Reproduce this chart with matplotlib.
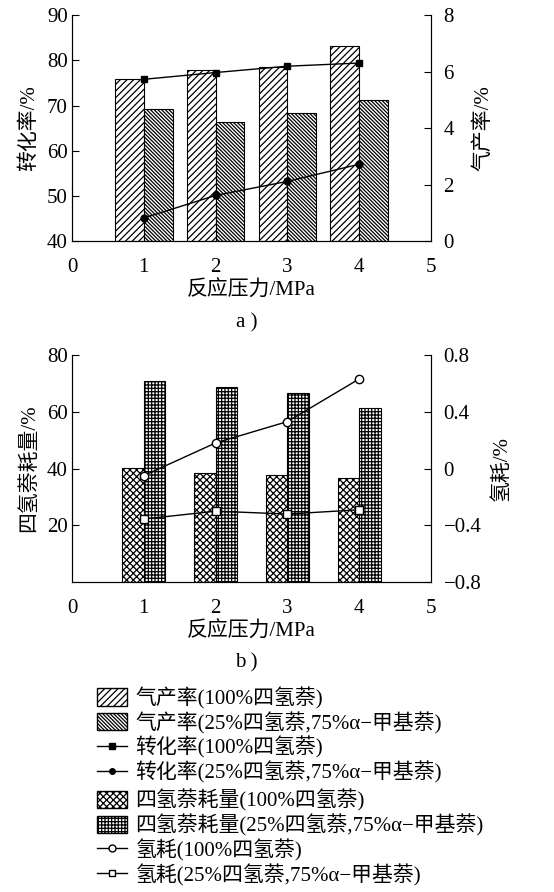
import matplotlib
matplotlib.use('Agg')
import matplotlib.pyplot as plt
import numpy as np
from matplotlib.patches import Patch
from matplotlib.lines import Line2D

plt.rcParams['font.family'] = ['Liberation Serif', 'Noto Sans CJK SC']
plt.rcParams['hatch.linewidth'] = 0.9
plt.rcParams['axes.unicode_minus'] = True

# pressure, MPa
pres = [1, 2, 3, 4]

# a) gas yield (%), right axis
gas_100 = [5.75, 6.06, 6.16, 6.91]
gas_25 = [4.67, 4.22, 4.53, 4.98]
# a) conversion (%), left axis
conv_100 = [75.8, 77.3, 78.7, 79.4]
conv_25 = [45.1, 50.1, 53.2, 57.0]

# b) tetralin consumption (%), left axis
thn_100 = [40.2, 38.5, 37.6, 36.5]
thn_25 = [70.6, 68.6, 66.4, 61.4]
# b) hydrogen consumption (%), right axis
h2_100 = [-0.05, 0.18, 0.33, 0.63]
h2_25 = [-0.355, -0.30, -0.32, -0.29]

lab_gas_100 = '气产率(100%四氢萘)'
lab_gas_25 = '气产率(25%四氢萘,75%α−甲基萘)'
lab_conv_100 = '转化率(100%四氢萘)'
lab_conv_25 = '转化率(25%四氢萘,75%α−甲基萘)'
lab_thn_100 = '四氢萘耗量(100%四氢萘)'
lab_thn_25 = '四氢萘耗量(25%四氢萘,75%α−甲基萘)'
lab_h2_100 = '氢耗(100%四氢萘)'
lab_h2_25 = '氢耗(25%四氢萘,75%α−甲基萘)'

fs = 15
hat_a1 = '/////'
hat_a2 = '\\' * 9
hat_b1 = 'xxxxx'
hat_b2 = '+++++'
x = np.array(pres)

fig = plt.figure(figsize=(5.54, 8.92), dpi=100)


def style(ax, ax2):
    for a in (ax, ax2):
        a.spines['top'].set_visible(False)
        a.tick_params(axis='y', direction='in', length=5, labelsize=fs, width=0.8)
        a.tick_params(axis='x', length=0, labelsize=fs, pad=12)
    ax.tick_params(axis='y', pad=3)
    ax2.tick_params(axis='y', pad=9)
    ax.set_xlim(0, 5)
    ax.set_xticks([0, 1, 2, 3, 4, 5])


# ---- a)
ax = fig.add_axes([0.130, 0.7298, 0.648, 0.2532])
ax2 = ax.twinx()
ax2.bar(x - 0.2, gas_100, width=0.4, color='white', edgecolor='black', hatch=hat_a1, lw=0.8)
ax2.bar(x + 0.2, gas_25, width=0.4, color='white', edgecolor='black', hatch=hat_a2, lw=0.8)
ax.plot(x, conv_100, '-s', color='black', ms=5, lw=1)
ax.plot(x, conv_25, '-o', color='black', ms=5, lw=1)
ax.set_zorder(ax2.get_zorder() + 1)
ax.patch.set_visible(False)
ax.set_ylim(40, 90)
ax.set_yticks(range(40, 91, 10))
ax2.set_ylim(0, 8)
ax2.set_yticks(range(0, 9, 2))
style(ax, ax2)
ax.set_ylabel('转化率/%', fontsize=fs, labelpad=6)
ax2.set_ylabel('气产率/%', fontsize=fs, labelpad=14)
ax.set_xlabel('反应压力/MPa', fontsize=fs, labelpad=3)
fig.text(0.445, 0.633, 'a )', fontsize=fs, ha='center')

# ---- b)
bx = fig.add_axes([0.130, 0.3472, 0.648, 0.2551])
bx2 = bx.twinx()
bx.bar(x - 0.15, thn_100, width=0.3, color='white', edgecolor='black', hatch=hat_b1, lw=0.8)
bx.bar(x + 0.15, thn_25, width=0.3, color='white', edgecolor='black', hatch=hat_b2, lw=0.8)
bx2.plot(x, h2_100, '-o', color='black', mfc='white', ms=6, lw=1)
bx2.plot(x, h2_25, '-s', color='black', mfc='white', ms=6, lw=1)
bx.set_ylim(0, 80)
bx.set_yticks([20, 40, 60, 80])
bx2.set_ylim(-0.8, 0.8)
bx2.set_yticks([-0.8, -0.4, 0, 0.4, 0.8])
bx2.set_yticklabels(['−0.8', '−0.4', '0', '0.4', '0.8'])
style(bx, bx2)
bx.set_ylabel('四氢萘耗量/%', fontsize=fs, labelpad=6)
bx2.set_ylabel('氢耗/%', fontsize=fs, labelpad=8)
bx.set_xlabel('反应压力/MPa', fontsize=fs, labelpad=3)
fig.text(0.445, 0.252, 'b )', fontsize=fs, ha='center')

# ---- legends
h1 = [Patch(facecolor='white', edgecolor='black', hatch=hat_a1, label=lab_gas_100),
      Patch(facecolor='white', edgecolor='black', hatch=hat_a2, label=lab_gas_25),
      Line2D([], [], color='black', marker='s', ms=4, lw=1, label=lab_conv_100),
      Line2D([], [], color='black', marker='o', ms=4, lw=1, label=lab_conv_25)]
h2 = [Patch(facecolor='white', edgecolor='black', hatch=hat_b1, label=lab_thn_100),
      Patch(facecolor='white', edgecolor='black', hatch=hat_b2, label=lab_thn_25),
      Line2D([], [], color='black', marker='o', mfc='white', ms=5, lw=1, label=lab_h2_100),
      Line2D([], [], color='black', marker='s', mfc='white', ms=5, lw=1, label=lab_h2_25)]
kw = dict(loc='upper left', frameon=False, fontsize=15, handlelength=1.45,
          handleheight=0.9, handletextpad=0.4, labelspacing=0.12, borderpad=0,
          borderaxespad=0)
leg1 = fig.legend(handles=h1, bbox_to_anchor=(0.175, 0.2297), **kw)
leg2 = fig.legend(handles=h2, bbox_to_anchor=(0.175, 0.1147), **kw)

fig.savefig('out.png', dpi=100)
